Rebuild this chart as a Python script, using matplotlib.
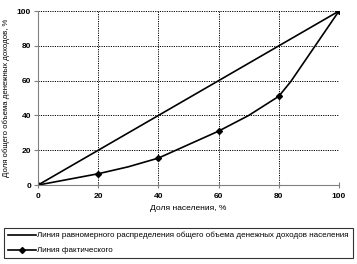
import matplotlib.pyplot as plt

plt.rcParams['font.family'] = ['Liberation Sans', 'DejaVu Sans']

# Lorenz curve data
equal_x = [0, 100]
equal_y = [0, 100]

actual_x = [0, 20, 30, 40, 60, 70, 80, 84, 100]
actual_y = [0, 6.5, 10.5, 15.5, 31, 40, 51, 59.5, 100]
marked = [0, 1, 3, 4, 6, 8]

ticks = [0, 20, 40, 60, 80, 100]

fig = plt.figure(figsize=(3.57, 2.64), dpi=100)
ax = fig.add_axes([0.1064, 0.299, 0.843, 0.659])

ax.plot(equal_x, equal_y, color='black', linewidth=1.2,
        label='Линия равномерного распределения общего объема денежных доходов населения')
ax.plot(actual_x, actual_y, color='black', linewidth=1.2, marker='D', markersize=3,
        markevery=marked, label='Линия фактического')

ax.set_xlim(0, 100)
ax.set_ylim(0, 100)
ax.set_xticks(ticks)
ax.set_yticks(ticks)
ax.grid(True, color='black', linestyle=(0, (1.2, 1.2)), linewidth=0.7)
for s in ['top', 'right']:
    ax.spines[s].set_visible(False)
ax.spines['bottom'].set_color('#808080')
ax.spines['left'].set_color('#808080')
ax.tick_params(axis='x', direction='inout', length=5, labelsize=6, pad=3, color='#808080')
ax.tick_params(axis='y', direction='out', length=3, labelsize=6, pad=2, color='#808080')
for lbl in ax.get_xticklabels() + ax.get_yticklabels():
    lbl.set_fontweight('bold')

ax.set_xlabel('Доля населения, %', fontsize=6, labelpad=4)
ax.set_ylabel('Доля общего объема денежных доходов, %', fontsize=5.6, labelpad=5)

leg = fig.legend(loc='upper left', bbox_to_anchor=(0.012, 0.137), bbox_transform=fig.transFigure,
                 fontsize=5.8, frameon=True, fancybox=False, edgecolor='black',
                 handlelength=3.4, handletextpad=0.2, borderpad=0.5, borderaxespad=0,
                 labelspacing=0.9)
leg.get_frame().set_linewidth(0.8)

fig.savefig('out.png', dpi=100)
